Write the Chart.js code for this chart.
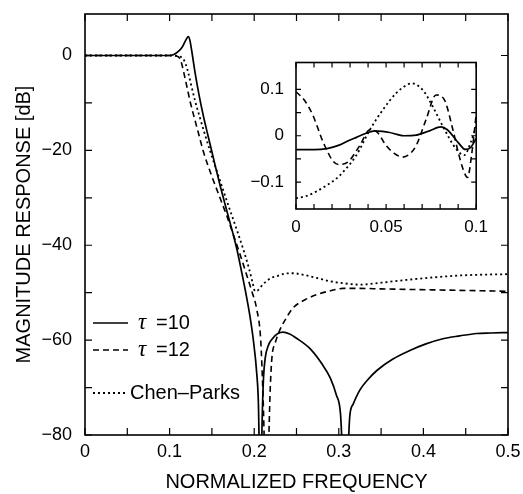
<!DOCTYPE html>
<html>
<head>
<meta charset="utf-8">
<script src="https://cdn.jsdelivr.net/npm/chart.js@4.4.1/dist/chart.umd.min.js"></script>
<style>
  body { margin: 0; background: #fff; }
  #wrap { position: relative; width: 523px; height: 494px; }
  #inset { position: absolute; left: 250px; top: 50px; }
</style>
</head>
<body>
<div id="wrap">
  <canvas id="main" width="523" height="494"></canvas>
  <canvas id="inset" width="240" height="190"></canvas>
</div>
<script>
// main plot: magnitude response, dB
const freqT10 = [0, 0.05, 0.1, 0.105, 0.11, 0.115, 0.119, 0.122, 0.124, 0.127, 0.13, 0.135, 0.14, 0.145, 0.15, 0.155, 0.16, 0.165, 0.17, 0.175, 0.18, 0.185, 0.19, 0.195, 0.199, 0.203, 0.205, 0.2073, 0.2095, 0.211, 0.213, 0.217, 0.222, 0.228, 0.234, 0.242, 0.25, 0.266, 0.28, 0.29, 0.297, 0.302, 0.3077, 0.313, 0.317, 0.325, 0.335, 0.345, 0.364, 0.384, 0.403, 0.423, 0.443, 0.463, 0.48, 0.5];
const magT10 = [0, 0, 0, 0.2, 0.8, 1.8, 3.2, 4.0, 3.2, 0, -3.5, -8.5, -12.8, -16.6, -20.3, -24, -27.6, -31, -34.3, -37.6, -41.2, -45.5, -50, -55, -60, -67, -73.5, -95, -76, -68, -63.8, -61, -59.6, -58.6, -58.3, -58.7, -59.6, -61.8, -65, -68, -71.5, -75.5, -95, -76, -73.5, -70.5, -68.2, -66.4, -64, -62.2, -60.8, -59.7, -59.1, -58.6, -58.5, -58.4];

const freqT12 = [0, 0.05, 0.1, 0.108, 0.112, 0.115, 0.118, 0.121, 0.124, 0.128, 0.134, 0.14, 0.15, 0.16, 0.168, 0.175, 0.183, 0.191, 0.197, 0.203, 0.2077, 0.2105, 0.2145, 0.219, 0.221, 0.225, 0.23, 0.238, 0.246, 0.26, 0.274, 0.29, 0.305, 0.325, 0.35, 0.38, 0.41, 0.44, 0.47, 0.5];
const magT12 = [0, 0, 0, -0.1, -0.6, -2.2, -4.6, -7, -9.5, -12.3, -16.3, -20.3, -25.5, -30.2, -34, -37.6, -41.8, -46.2, -49.6, -53.5, -60, -72, -95, -70, -63.6, -60.5, -58, -55.3, -53.2, -51.5, -50.4, -49.6, -49.1, -49.1, -49.2, -49.3, -49.4, -49.5, -49.6, -49.7];

const freqCP = [0, 0.05, 0.1, 0.108, 0.112, 0.116, 0.119, 0.122, 0.126, 0.13, 0.136, 0.142, 0.148, 0.157, 0.167, 0.177, 0.187, 0.194, 0.198, 0.201, 0.205, 0.21, 0.219, 0.227, 0.236, 0.246, 0.26, 0.274, 0.29, 0.305, 0.325, 0.35, 0.38, 0.41, 0.44, 0.47, 0.5];
const magCP = [0, 0, 0, -0.05, -0.2, -0.7, -1.8, -3.6, -6.6, -9.5, -13.2, -16.8, -20.2, -25, -30.3, -35.5, -40.8, -45, -47.8, -49.7, -49.4, -48.3, -47, -46.5, -46, -45.9, -46.3, -46.9, -47.6, -48, -48.3, -47.9, -47.3, -46.8, -46.4, -46.2, -46.1];

// inset: passband ripple, dB
const inFreqT10 = [0, 0.008, 0.015, 0.02, 0.0243, 0.029, 0.0335, 0.039, 0.0436, 0.048, 0.052, 0.056, 0.06, 0.0667, 0.074, 0.0805, 0.084, 0.087, 0.0905, 0.094, 0.097, 0.1];
const inMagT10 = [-0.030, -0.030, -0.029, -0.025, -0.0197, -0.011, -0.0035, 0.0055, 0.0106, 0.0095, 0.007, 0.003, 0.0, 0.0014, 0.0106, 0.019, 0.013, 0.0, -0.017, -0.0296, -0.025, -0.006];

const inFreqT12 = [0, 0.005, 0.0096, 0.0151, 0.0206, 0.0234, 0.029, 0.0354, 0.041, 0.045, 0.05, 0.0545, 0.0593, 0.0635, 0.0667, 0.0722, 0.0777, 0.0823, 0.087, 0.09, 0.093, 0.0952, 0.0975, 0.1];
const inMagT12 = [0.095, 0.075, 0.042, -0.014, -0.055, -0.062, -0.056, -0.021, 0.0127, 0.008, -0.021, -0.038, -0.046, -0.038, -0.021, 0.035, 0.088, 0.078, 0.014, -0.035, -0.075, -0.09, -0.04, 0.046];

const inFreqCP = [0, 0.0057, 0.0114, 0.017, 0.0225, 0.028, 0.0335, 0.041, 0.0482, 0.0556, 0.06, 0.064, 0.0703, 0.0759, 0.0814, 0.0888, 0.0934, 0.097, 0.1];
const inMagCP = [-0.135, -0.13, -0.12, -0.107, -0.092, -0.07, -0.042, 0.0127, 0.056, 0.092, 0.106, 0.113, 0.099, 0.063, 0.021, -0.028, -0.042, -0.014, 0.02];

const seriesLabels = ["τ =10", "τ =12", "Chen–Parks"];
const mainXTicks = [0, 0.1, 0.2, 0.3, 0.4, 0.5];
const mainYTicks = [0, -20, -40, -60, -80];
const insetXTicks = [0, 0.05, 0.1];
const insetYTicks = [0.1, 0, -0.1];

Chart.defaults.font.family = '"Liberation Sans", Arial, sans-serif';
Chart.defaults.color = "#000";

const pts = (fs, vs) => fs.map((f, i) => ({ x: f, y: vs[i] }));
const near = (v, s) => Math.abs(v / s - Math.round(v / s)) < 1e-6;
const fmt = v => String(Number(v.toFixed(3))).replace("-", "\u2212");
const inList = (v, list) => list.some(t => Math.abs(t - v) < 1e-9);

const styles = [
  { borderDash: [], borderWidth: 1.7 },
  { borderDash: [6, 4], borderWidth: 1.6 },
  { borderDash: [2, 3], borderWidth: 1.8 }
];

function makeSets(list) {
  return list.map((d, i) => ({
    label: seriesLabels[i],
    data: d,
    borderColor: "#000",
    borderDash: styles[i].borderDash,
    borderWidth: styles[i].borderWidth,
    pointRadius: 0,
    fill: false,
    cubicInterpolationMode: "monotone"
  }));
}

// box and inward ticks on all four sides
const framePlugin = {
  id: "frame",
  afterDatasetsDraw(chart, args, opts) {
    const { ctx, chartArea: a, scales: { x, y } } = chart;
    ctx.save();
    ctx.strokeStyle = "#000";
    ctx.lineWidth = 1.6;
    ctx.setLineDash([]);
    ctx.strokeRect(a.left, a.top, a.right - a.left, a.bottom - a.top);
    ctx.beginPath();
    x.ticks.forEach(t => {
      if (!near(t.value, opts.xStep)) return;
      const px = x.getPixelForValue(t.value);
      ctx.moveTo(px, a.bottom); ctx.lineTo(px, a.bottom - opts.len);
      ctx.moveTo(px, a.top); ctx.lineTo(px, a.top + opts.len);
    });
    y.ticks.forEach(t => {
      if (!near(t.value, opts.yStep)) return;
      const py = y.getPixelForValue(t.value);
      ctx.moveTo(a.left, py); ctx.lineTo(a.left + opts.len, py);
      ctx.moveTo(a.right, py); ctx.lineTo(a.right - opts.len, py);
    });
    ctx.lineWidth = 1.2;
    ctx.stroke();
    ctx.restore();
  }
};

const legendPlugin = {
  id: "inlegend",
  afterDatasetsDraw(chart) {
    const ctx = chart.ctx;
    const rows = [323, 350, 393];
    ctx.save();
    chart.data.datasets.forEach((ds, i) => {
      const yy = rows[i];
      ctx.strokeStyle = "#000";
      ctx.lineWidth = ds.borderWidth;
      ctx.setLineDash(ds.borderDash);
      ctx.beginPath();
      ctx.moveTo(93, yy); ctx.lineTo(128, yy);
      ctx.stroke();
      ctx.setLineDash([]);
      ctx.fillStyle = "#000";
      ctx.textBaseline = "middle";
      ctx.textAlign = "left";
      if (ds.label.startsWith("τ")) {
        ctx.font = 'italic 23px "Liberation Serif", serif';
        ctx.fillText("τ", 138, yy);
        ctx.font = '20px "Liberation Sans", Arial, sans-serif';
        ctx.fillText(ds.label.slice(1).trim(), 156, yy);
      } else {
        ctx.font = '20px "Liberation Sans", Arial, sans-serif';
        ctx.fillText(ds.label, 130, yy);
      }
    });
    ctx.restore();
  }
};

new Chart(document.getElementById("main"), {
  type: "line",
  data: {
    datasets: makeSets([pts(freqT10, magT10), pts(freqT12, magT12), pts(freqCP, magCP)])
  },
  options: {
    responsive: false,
    animation: false,
    layout: { padding: { top: 10, right: 15, left: 0, bottom: 0 } },
    plugins: {
      legend: { display: false },
      tooltip: { enabled: false },
      frame: { xStep: 0.05, yStep: 10, len: 7 }
    },
    scales: {
      x: {
        type: "linear", min: 0, max: 0.5,
        grid: { display: false }, border: { display: false },
        ticks: {
          stepSize: 0.05, autoSkip: false, maxRotation: 0, padding: 0,
          font: { size: 18, lineHeight: 1 },
          callback: v => inList(v, mainXTicks) ? fmt(v) : ""
        },
        title: { display: true, text: "NORMALIZED FREQUENCY", font: { size: 20, lineHeight: 1.2 }, padding: { top: 0, bottom: 0 } },
        afterFit: s => { s.height = 59; }
      },
      y: {
        type: "linear", min: -80, max: 8.75,
        grid: { display: false }, border: { display: false },
        ticks: {
          stepSize: 10, autoSkip: false, padding: 5,
          font: { size: 18, lineHeight: 1 },
          callback: v => inList(v, mainYTicks) ? fmt(v) : ""
        },
        title: { display: true, text: "MAGNITUDE RESPONSE [dB]", font: { size: 20, lineHeight: 1.2 }, padding: { top: 12, bottom: 0 } },
        afterFit: s => { s.width = 85; }
      }
    }
  },
  plugins: [framePlugin, legendPlugin]
});

new Chart(document.getElementById("inset"), {
  type: "line",
  data: {
    datasets: makeSets([pts(inFreqT10, inMagT10), pts(inFreqT12, inMagT12), pts(inFreqCP, inMagCP)])
  },
  options: {
    responsive: false,
    animation: false,
    layout: { padding: { top: 10, right: 13, left: 0, bottom: 0 } },
    plugins: {
      legend: { display: false },
      tooltip: { enabled: false },
      frame: { xStep: 0.01, yStep: 0.05, len: 5 }
    },
    scales: {
      x: {
        type: "linear", min: 0, max: 0.1,
        grid: { display: false }, border: { display: false },
        ticks: {
          stepSize: 0.01, autoSkip: false, maxRotation: 0, padding: 2,
          font: { size: 17, lineHeight: 1 },
          callback: v => inList(v, insetXTicks) ? fmt(v) : ""
        },
        afterFit: s => { s.height = 31; }
      },
      y: {
        type: "linear", min: -0.158, max: 0.158,
        grid: { display: false }, border: { display: false },
        ticks: {
          stepSize: 0.05, autoSkip: false, padding: 4,
          font: { size: 17, lineHeight: 1 },
          callback: v => inList(v, insetYTicks) ? fmt(v) : ""
        },
        afterFit: s => { s.width = 46; }
      }
    }
  },
  plugins: [framePlugin]
});
</script>
</body>
</html>
